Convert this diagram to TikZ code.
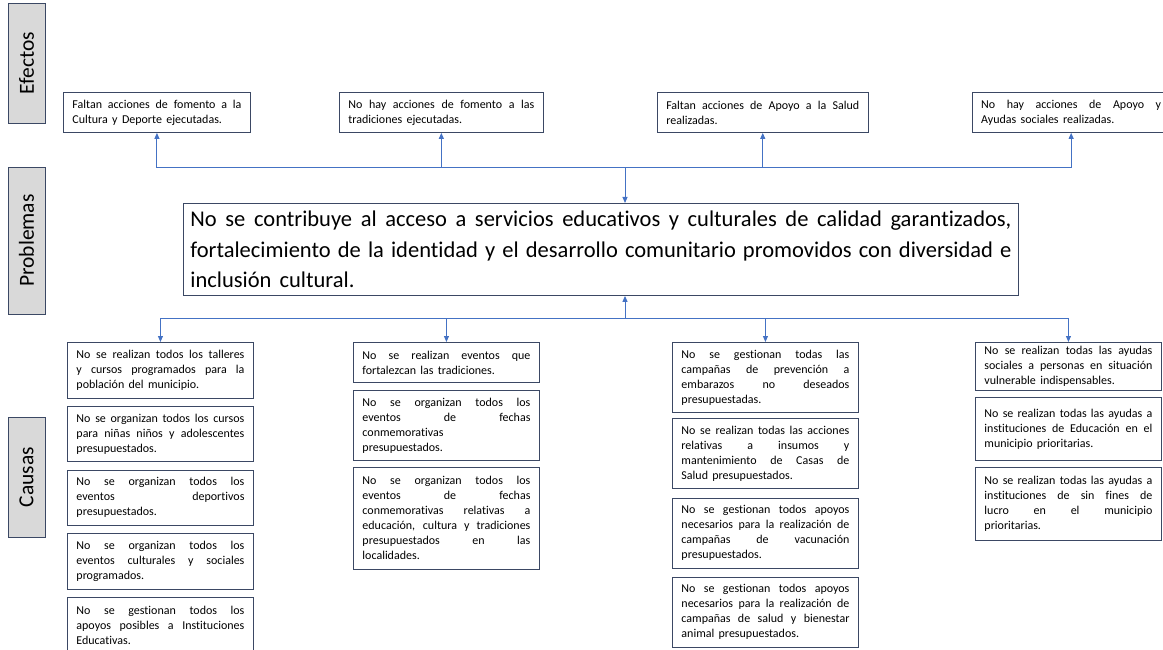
\documentclass[tikz,border=0pt]{standalone}
\usepackage{fontspec}
\setmainfont{Carlito}[Ligatures={NoCommon,NoContextual},WordSpace={1.6,1.2,2}]
\usetikzlibrary{arrows.meta,positioning}
\definecolor{mtxline}{RGB}{68,114,196}
\definecolor{mtxedge}{RGB}{59,72,100}
\definecolor{mtxgray}{RGB}{217,217,217}

\begin{document}
\begin{tikzpicture}[x=1pt,y=1pt,
node distance=8pt,
tag/.style={draw=mtxedge,fill=mtxgray,line width=0.9pt,rotate=90,minimum width=#1,minimum height=37pt,inner sep=0pt,font=\fontsize{21.5}{24}\selectfont},
eff/.style={draw=mtxedge,line width=0.9pt,align=justify,text width=#1,minimum height=40pt,inner xsep=9pt,inner ysep=4pt,font=\fontsize{12}{15}\selectfont},
prob/.style={draw=mtxedge,line width=0.9pt,align=justify,text width=821pt,minimum height=92pt,inner xsep=7pt,inner ysep=4pt,font=\fontsize{22.5}{30.5}\selectfont},
cau/.style={draw=mtxedge,line width=0.9pt,align=justify,text width=168pt,minimum height=#1,inner xsep=9pt,inner ysep=4pt,font=\fontsize{12}{15}\selectfont},
arr/.style={-{Triangle[length=6pt,width=5pt]},draw=mtxline,line width=1pt}
]
\clip (0,0) rectangle (1163,-650);
\node[tag=120pt] (efectos) at (26.5,-63) {Efectos};
\node[tag=147pt] (problemas) at (26.5,-240.5) {Problemas};
\node[tag=120pt] (causas) at (26.5,-477) {Causas};
\node[eff=169pt, anchor=north west] (e1) at (63,-92) {Faltan acciones de fomento a la\linebreak Cultura y Deporte ejecutadas.};
\node[eff=186pt, right=88pt of e1] (e2) {No hay acciones de fomento a las\linebreak tradiciones ejecutadas.};
\node[eff=193pt, right=113pt of e2] (e3) {Faltan acciones de Apoyo a la Salud\linebreak realizadas.};
\node[eff=180pt, right=103pt of e3] (e4) {No hay acciones de Apoyo y\linebreak Ayudas sociales realizadas.};
\node[prob, anchor=north west] (prob) at (183,-203) {No se contribuye al acceso a servicios educativos y culturales de calidad garantizados,\linebreak fortalecimiento de la identidad y el desarrollo comunitario promovidos con diversidad e\linebreak inclusión cultural.};
\node[cau=56pt, anchor=north west] (c1a) at (67,-342) {No se realizan todos los talleres\linebreak y cursos programados para la\linebreak población del municipio.};
\node[cau=55pt, below=7pt of c1a] (c1b) {No se organizan todos los cursos\linebreak para niñas niños y adolescentes\linebreak presupuestados.};
\node[cau=55pt, below=8pt of c1b] (c1c) {No se organizan todos los\linebreak eventos deportivos\linebreak presupuestados.};
\node[cau=56pt, below=7pt of c1c] (c1d) {No se organizan todos los\linebreak eventos culturales y sociales\linebreak programados.};
\node[cau=56pt, below=7pt of c1d] (c1e) {No se gestionan todos los\linebreak apoyos posibles a Instituciones\linebreak Educativas.};
\node[cau=40pt, anchor=north west] (c2a) at (353,-342) {No se realizan eventos que\linebreak fortalezcan las tradiciones.};
\node[cau=70pt, below=7pt of c2a] (c2b) {No se organizan todos los\linebreak eventos de fechas\linebreak conmemorativas\linebreak presupuestados.};
\node[cau=102pt, below=6pt of c2b] (c2c) {No se organizan todos los\linebreak eventos de fechas\linebreak conmemorativas relativas a\linebreak educación, cultura y tradiciones\linebreak presupuestados en las\linebreak localidades.};
\node[cau=70pt, anchor=north west] (c3a) at (672,-342) {No se gestionan todas las\linebreak campañas de prevención a\linebreak embarazos no deseados\linebreak presupuestadas.};
\node[cau=70pt, below=5pt of c3a] (c3b) {No se realizan todas las acciones\linebreak relativas a insumos y\linebreak mantenimiento de Casas de\linebreak Salud presupuestados.};
\node[cau=70pt, below=9pt of c3b] (c3c) {No se gestionan todos apoyos\linebreak necesarios para la realización de\linebreak campañas de vacunación\linebreak presupuestados.};
\node[cau=70pt, below=8pt of c3c] (c3d) {No se gestionan todos apoyos\linebreak necesarios para la realización de\linebreak campañas de salud y bienestar\linebreak animal presupuestados.};
\node[cau=46pt, anchor=north west] (c4a) at (975,-342) {No se realizan todas las ayudas\linebreak sociales a personas en situación\linebreak vulnerable indispensables.};
\node[cau=63pt, below=6pt of c4a] (c4b) {No se realizan todas las ayudas a\linebreak instituciones de Educación en el\linebreak municipio prioritarias.};
\node[cau=73pt, below=6pt of c4b] (c4c) {No se realizan todas las ayudas a\linebreak instituciones de sin fines de\linebreak lucro en el municipio\linebreak prioritarias.};
\coordinate (tjoin) at (625,-168);
\coordinate (bjoin) at (625,-318);
\draw[arr] (tjoin) -- (tjoin |- prob.north);
\draw[arr] (tjoin) -| (e1.south);
\draw[arr] (tjoin) -| (e2.south);
\draw[arr] (tjoin) -| (e3.south);
\draw[arr] (tjoin) -| (e4.south);
\draw[arr] (bjoin) -- (bjoin |- prob.south);
\draw[arr] (bjoin) -| (c1a.north);
\draw[arr] (bjoin) -| (c2a.north);
\draw[arr] (bjoin) -| (c3a.north);
\draw[arr] (bjoin) -| (c4a.north);
\end{tikzpicture}
\end{document}
